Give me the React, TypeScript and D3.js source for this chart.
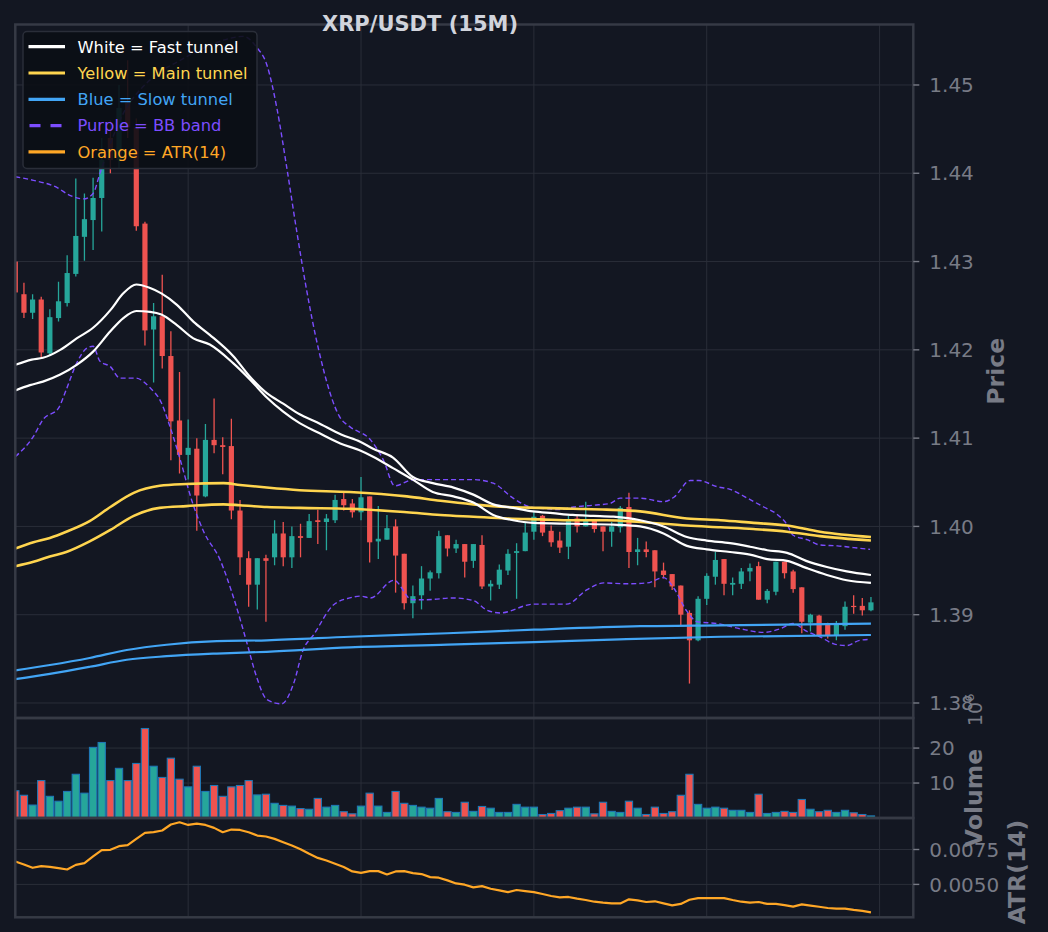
import React from 'react';
import * as d3 from 'd3';

// 15M candles (oldest first)
const opens = [
  1.4300, 1.4263, 1.4242, 1.4257, 1.4196, 1.4236, 1.4253, 1.4286, 1.4328, 1.4347,
  1.4372, 1.4440, 1.4415, 1.4480, 1.4452, 1.4343, 1.4223, 1.4238, 1.4193, 1.4120,
  1.4081, 1.4088, 1.4034, 1.4098, 1.4092, 1.4091, 1.4018, 1.3964, 1.3934, 1.3964,
  1.3965, 1.3992, 1.3965, 1.3989, 1.3987, 1.4007, 1.4005, 1.4007, 1.4031, 1.4026,
  1.4016, 1.4034, 1.3983, 1.3985, 1.4000, 1.3969, 1.3913, 1.3922, 1.3941, 1.3947,
  1.3990, 1.3975, 1.3980, 1.3961, 1.3979, 1.3932, 1.3934, 1.3950, 1.3970, 1.3972,
  1.3994, 1.4012, 1.3995, 1.3984, 1.3977, 1.4009, 1.4000, 1.4008, 1.4000, 1.3994,
  1.3999, 1.4022, 1.3971, 1.3974, 1.3973, 1.3950, 1.3946, 1.3933, 1.3902, 1.3871,
  1.3918, 1.3943, 1.3963, 1.3934, 1.3935, 1.3949, 1.3955, 1.3917, 1.3926, 1.3960,
  1.3949, 1.3931, 1.3891, 1.3899, 1.3890, 1.3876, 1.3887, 1.3910, 1.3910, 1.3905,
];
const highs = [
  1.4334, 1.4276, 1.4263, 1.4260, 1.4246, 1.4277, 1.4307, 1.4394, 1.4377, 1.4395,
  1.4440, 1.4460, 1.4500, 1.4528, 1.4462, 1.4345, 1.4253, 1.4285, 1.4221, 1.4175,
  1.4121, 1.4100, 1.4116, 1.4145, 1.4101, 1.4122, 1.4030, 1.3972, 1.3964, 1.3968,
  1.4007, 1.4005, 1.4000, 1.4003, 1.4014, 1.4019, 1.4014, 1.4036, 1.4039, 1.4031,
  1.4056, 1.4034, 1.4023, 1.4013, 1.4008, 1.3969, 1.3933, 1.3955, 1.3950, 1.3995,
  1.3990, 1.3985, 1.3980, 1.3980, 1.3990, 1.3939, 1.3957, 1.3974, 1.3981, 1.4005,
  1.4017, 1.4013, 1.4001, 1.3994, 1.4012, 1.4013, 1.4028, 1.4008, 1.4000, 1.4005,
  1.4023, 1.4038, 1.3987, 1.3983, 1.3973, 1.3959, 1.3946, 1.3933, 1.3905, 1.3921,
  1.3947, 1.3971, 1.3963, 1.3942, 1.3953, 1.3958, 1.3960, 1.3929, 1.3960, 1.3960,
  1.3951, 1.3931, 1.3901, 1.3900, 1.3891, 1.3893, 1.3915, 1.3922, 1.3919, 1.3920,
];
const lows = [
  1.4258, 1.4236, 1.4235, 1.4190, 1.4194, 1.4232, 1.4249, 1.4283, 1.4301, 1.4313,
  1.4334, 1.4400, 1.4405, 1.4440, 1.4335, 1.4205, 1.4163, 1.4179, 1.4075, 1.4060,
  1.4053, 1.3995, 1.4033, 1.4083, 1.4059, 1.4008, 1.3945, 1.3909, 1.3906, 1.3892,
  1.3956, 1.3955, 1.3953, 1.3965, 1.3987, 1.3980, 1.3973, 1.4004, 1.4018, 1.4010,
  1.4007, 1.3959, 1.3963, 1.3985, 1.3925, 1.3906, 1.3896, 1.3906, 1.3927, 1.3941,
  1.3966, 1.3970, 1.3942, 1.3953, 1.3929, 1.3916, 1.3929, 1.3945, 1.3918, 1.3972,
  1.3985, 1.3989, 1.3977, 1.3970, 1.3963, 1.3993, 1.4000, 1.3993, 1.3972, 1.3977,
  1.3993, 1.3953, 1.3956, 1.3965, 1.3931, 1.3941, 1.3928, 1.3888, 1.3822, 1.3870,
  1.3911, 1.3934, 1.3922, 1.3922, 1.3929, 1.3938, 1.3917, 1.3913, 1.3922, 1.3941,
  1.3925, 1.3879, 1.3881, 1.3875, 1.3873, 1.3871, 1.3883, 1.3901, 1.3899, 1.3904,
];
const closes = [
  1.4265, 1.4242, 1.4257, 1.4197, 1.4237, 1.4255, 1.4287, 1.4329, 1.4348, 1.4372,
  1.4415, 1.4415, 1.4474, 1.4452, 1.4340, 1.4222, 1.4238, 1.4193, 1.4119, 1.4081,
  1.4089, 1.4035, 1.4098, 1.4092, 1.4090, 1.4018, 1.3965, 1.3934, 1.3964, 1.3961,
  1.3992, 1.3965, 1.3989, 1.3987, 1.4006, 1.4005, 1.4009, 1.4030, 1.4024, 1.4016,
  1.4033, 1.3982, 1.3986, 1.3998, 1.3967, 1.3913, 1.3921, 1.3941, 1.3948, 1.3989,
  1.3975, 1.3980, 1.3960, 1.3980, 1.3932, 1.3935, 1.3951, 1.3969, 1.3972, 1.3993,
  1.4011, 1.3993, 1.3982, 1.3976, 1.4007, 1.4000, 1.4007, 1.3997, 1.3994, 1.4000,
  1.4021, 1.3971, 1.3974, 1.3971, 1.3949, 1.3945, 1.3932, 1.3900, 1.3871, 1.3918,
  1.3944, 1.3962, 1.3935, 1.3936, 1.3949, 1.3953, 1.3917, 1.3927, 1.3960, 1.3947,
  1.3929, 1.3892, 1.3900, 1.3876, 1.3876, 1.3889, 1.3909, 1.3909, 1.3905, 1.3914,
];

// volume in millions
const volumes = [
  7.8, 6.5, 3.7, 10.7, 6.2, 4.8, 7.6, 12.5, 7.1, 20.2,
  21.6, 10.7, 14.2, 10.7, 15.6, 25.6, 14.8, 11.6, 17.1, 11.1,
  8.9, 14.8, 7.6, 9.3, 6.2, 8.9, 9.3, 10.7, 6.6, 6.8,
  4.2, 3.6, 3.4, 2.7, 2.5, 5.6, 3.1, 3.6, 1.8, 1.2,
  3.4, 7.1, 3.4, 1.6, 7.6, 4.2, 3.6, 3.1, 2.8, 5.6,
  1.8, 1.6, 4.5, 1.9, 3.3, 2.8, 1.6, 1.6, 3.9, 3.1,
  3.1, 1.0, 1.3, 2.1, 2.8, 3.1, 3.1, 1.2, 4.5, 1.9,
  1.6, 4.8, 2.8, 1.0, 3.1, 1.3, 1.8, 6.5, 12.5, 3.9,
  2.8, 3.1, 2.8, 2.2, 2.2, 1.6, 6.8, 1.3, 1.6, 1.9,
  1.6, 5.3, 2.5, 1.8, 2.2, 1.6, 2.2, 1.5, 1.0, 0.6,
];

const atr14 = [
  0.00664, 0.00643, 0.00619, 0.00631, 0.00626, 0.00617, 0.00607, 0.00640, 0.00652, 0.00700,
  0.00745, 0.00748, 0.00774, 0.00781, 0.00826, 0.00869, 0.00874, 0.00886, 0.00929, 0.00945,
  0.00926, 0.00936, 0.00926, 0.00905, 0.00874, 0.00893, 0.00890, 0.00874, 0.00850, 0.00843,
  0.00826, 0.00802, 0.00779, 0.00752, 0.00719, 0.00690, 0.00671, 0.00648, 0.00624, 0.00593,
  0.00583, 0.00595, 0.00595, 0.00571, 0.00593, 0.00595, 0.00581, 0.00574, 0.00552, 0.00548,
  0.00529, 0.00507, 0.00498, 0.00479, 0.00488, 0.00469, 0.00457, 0.00445, 0.00460, 0.00452,
  0.00445, 0.00431, 0.00417, 0.00407, 0.00410, 0.00398, 0.00388, 0.00376, 0.00369, 0.00364,
  0.00364, 0.00393, 0.00386, 0.00374, 0.00379, 0.00364, 0.00350, 0.00360, 0.00390, 0.00402,
  0.00402, 0.00402, 0.00402, 0.00388, 0.00376, 0.00369, 0.00374, 0.00360, 0.00360, 0.00352,
  0.00341, 0.00357, 0.00348, 0.00340, 0.00331, 0.00326, 0.00326, 0.00317, 0.00310, 0.00300,
];

// indicator lines as [bar index, price]
const fastUpper = [
  [0, 1.4183], [1.9, 1.4189], [3.2, 1.4191], [5.2, 1.4200], [7.1, 1.4213], [9.0, 1.4225],
  [11.0, 1.4245], [12.5, 1.4264], [14.0, 1.4274], [15.6, 1.4270], [16.9, 1.4264], [18.7, 1.4251],
  [20.6, 1.4232], [22.5, 1.4217], [25.2, 1.4193], [27.2, 1.4169], [29.1, 1.4151], [31.0, 1.4139],
  [32.9, 1.4127], [34.9, 1.4118], [37.7, 1.4104], [39.9, 1.4096], [41.4, 1.4088], [43.7, 1.4078],
  [46.0, 1.4056], [48.3, 1.4049], [50.7, 1.4044], [53.0, 1.4036], [55.3, 1.4025], [57.6, 1.4021],
  [59.9, 1.4017], [62.2, 1.4015], [64.5, 1.4013], [66.9, 1.4012], [69.2, 1.4011], [72.3, 1.4007],
  [75.0, 1.4000], [77.7, 1.3988], [80.0, 1.3984], [82.7, 1.3981], [85.0, 1.3977], [87.0, 1.3973],
  [89.3, 1.3970], [91.5, 1.3961], [93.9, 1.3954], [96.2, 1.3949], [99.0, 1.3945],
];
const fastLower = [
  [0, 1.4154], [1.7, 1.4160], [3.2, 1.4164], [5.2, 1.4172], [7.1, 1.4183], [9.0, 1.4198],
  [11.0, 1.4221], [12.5, 1.4236], [14.0, 1.4244], [15.6, 1.4243], [16.9, 1.4240], [18.7, 1.4228],
  [20.6, 1.4213], [22.5, 1.4206], [25.2, 1.4185], [27.2, 1.4166], [29.1, 1.4146], [31.0, 1.4130],
  [32.9, 1.4117], [34.9, 1.4107], [37.6, 1.4094], [39.9, 1.4086], [41.4, 1.4079], [43.7, 1.4066],
  [46.0, 1.4053], [48.3, 1.4039], [50.7, 1.4034], [53.0, 1.4027], [55.3, 1.4013], [57.6, 1.4007],
  [59.9, 1.4004], [64.5, 1.4003], [69.2, 1.4002], [72.3, 1.4000], [75.0, 1.3992], [77.7, 1.3978],
  [80.0, 1.3974], [82.7, 1.3971], [85.0, 1.3968], [87.0, 1.3963], [89.3, 1.3961], [91.5, 1.3953],
  [93.9, 1.3945], [96.2, 1.3939], [99.0, 1.3936],
];
const mainUpper = [
  [0, 1.3975], [2.1, 1.3982], [4.0, 1.3987], [5.9, 1.3994], [8.6, 1.4006], [11.0, 1.4022],
  [13.7, 1.4038], [16.7, 1.4046], [19.8, 1.4048], [24.1, 1.4049], [26.0, 1.4047], [29.1, 1.4044],
  [32.9, 1.4041], [38.7, 1.4039], [45.3, 1.4034], [49.2, 1.4029], [53.0, 1.4025], [56.9, 1.4022],
  [60.7, 1.4021], [64.5, 1.4020], [68.4, 1.4019], [72.3, 1.4017], [77.7, 1.4009], [81.6, 1.4007],
  [85.4, 1.4004], [89.3, 1.4001], [93.1, 1.3994], [99.0, 1.3988],
];
const mainLower = [
  [0, 1.3955], [2.1, 1.3960], [4.0, 1.3966], [5.9, 1.3971], [8.6, 1.3983], [11.0, 1.3996],
  [13.7, 1.4012], [16.7, 1.4021], [19.8, 1.4023], [24.1, 1.4025], [26.0, 1.4024], [29.1, 1.4022],
  [32.9, 1.4021], [38.7, 1.4020], [45.3, 1.4016], [49.2, 1.4013], [53.0, 1.4011], [56.9, 1.4009],
  [60.7, 1.4008], [64.5, 1.4007], [68.4, 1.4007], [72.3, 1.4005], [77.7, 1.4001], [81.6, 1.3999],
  [85.4, 1.3997], [89.3, 1.3994], [93.1, 1.3989], [99.0, 1.3984],
];
const slowUpper = [
  [0, 1.3837], [4.0, 1.3843], [8.6, 1.3851], [12.9, 1.3860], [17.5, 1.3866], [23.3, 1.3870],
  [29.1, 1.3871], [38.7, 1.3875], [50.0, 1.3879], [60.0, 1.3883], [72.3, 1.3887], [81.6, 1.3888],
  [99.0, 1.3890],
];
const slowLower = [
  [0, 1.3827], [4.0, 1.3833], [8.6, 1.3841], [12.9, 1.3849], [17.5, 1.3853], [23.3, 1.3856],
  [29.1, 1.3858], [38.7, 1.3863], [50.0, 1.3866], [60.0, 1.3869], [69.9, 1.3872], [81.6, 1.3875],
  [99.0, 1.3877],
];
const bbUpper = [
  [0, 1.4396], [2.1, 1.4392], [4.8, 1.4384], [6.3, 1.4375], [7.9, 1.4371], [9.0, 1.4377],
  [9.8, 1.4400], [12.1, 1.4460], [15.6, 1.4506], [19.1, 1.4528], [22.5, 1.4545], [26.4, 1.4555],
  [27.9, 1.4543], [29.1, 1.4523], [30.3, 1.4472], [31.4, 1.4407], [32.6, 1.4332], [33.7, 1.4268],
  [35.1, 1.4200], [37.6, 1.4123], [38.7, 1.4113], [41.1, 1.4098], [42.6, 1.4075], [43.9, 1.4046],
  [46.1, 1.4053], [49.2, 1.4053], [53.0, 1.4053], [55.3, 1.4049], [57.6, 1.4032], [59.6, 1.4022],
  [61.5, 1.4020], [63.0, 1.4019], [64.6, 1.4022], [66.9, 1.4024], [68.8, 1.4026], [70.0, 1.4032],
  [72.3, 1.4032], [75.0, 1.4028], [76.2, 1.4033], [78.1, 1.4052], [79.1, 1.4052], [81.2, 1.4045],
  [82.7, 1.4042], [84.7, 1.4032], [86.6, 1.4022], [88.1, 1.4014], [89.3, 1.4002], [90.0, 1.3990],
  [91.6, 1.3985], [93.1, 1.3979], [95.1, 1.3978], [97.0, 1.3976], [98.9, 1.3974],
];
const bbLower = [
  [0, 1.4079], [2.1, 1.4102], [3.2, 1.4121], [5.0, 1.4134], [5.9, 1.4155], [7.1, 1.4185],
  [8.3, 1.4202], [9.0, 1.4204], [9.8, 1.4187], [11.0, 1.4181], [12.1, 1.4168], [13.9, 1.4168],
  [15.6, 1.4157], [16.9, 1.4140], [17.9, 1.4113], [19.1, 1.4075], [20.4, 1.4030], [21.8, 1.3994],
  [23.7, 1.3962], [25.2, 1.3921], [26.8, 1.3868], [27.9, 1.3830], [29.1, 1.3804], [30.8, 1.3799],
  [32.2, 1.3822], [33.3, 1.3860], [34.5, 1.3877], [36.8, 1.3911], [38.7, 1.3919], [39.9, 1.3921],
  [41.1, 1.3919], [43.8, 1.3939], [45.9, 1.3917], [47.6, 1.3917], [50.7, 1.3919], [53.0, 1.3916],
  [54.6, 1.3905], [56.1, 1.3902], [60.0, 1.3912], [63.8, 1.3912], [66.1, 1.3928], [68.1, 1.3936],
  [70.8, 1.3935], [73.1, 1.3936], [75.0, 1.3942], [76.2, 1.3930], [77.7, 1.3904], [78.9, 1.3892],
  [81.2, 1.3890], [83.9, 1.3884], [86.6, 1.3880], [88.5, 1.3884], [90.0, 1.3890], [91.6, 1.3881],
  [93.1, 1.3875], [94.7, 1.3867], [96.2, 1.3865], [97.7, 1.3871], [98.9, 1.3872],
];

const priceTicks = [1.38, 1.39, 1.40, 1.41, 1.42, 1.43, 1.44, 1.45];
const volumeTicks = [10, 20];
const atrTicks = [0.005, 0.0075];
const xGridTicks = [0, 20, 40, 60, 80, 100];

const legendItems = [
  { label: 'White = Fast tunnel', color: '#ffffff', dashed: false },
  { label: 'Yellow = Main tunnel', color: '#ffd54f', dashed: false },
  { label: 'Blue = Slow tunnel', color: '#42a5f5', dashed: false },
  { label: 'Purple = BB band', color: '#7c4dff', dashed: true },
  { label: 'Orange = ATR(14)', color: '#ffa726', dashed: false },
];

const W = 1048;
const H = 932;
const BG = '#131722';
const GRID = '#2a2e39';
const SPINE = '#363a45';
const MUTED = '#787b86';
const UP = '#26a69a';
const DOWN = '#ef5350';
const FONT = 'DejaVu Sans';

const LEFT = 15.3;
const RIGHT = 913.3;
const mainPanel = { top: 24.5, bottom: 718 };
const volPanel = { top: 718, bottom: 818 };
const atrPanel = { top: 818, bottom: 917.3 };

const App: React.FC = () => {
  const x = d3.scaleLinear().domain([0, 103.9]).range([LEFT, RIGHT]);
  const yPrice = d3.scaleLinear().domain([1.3783, 1.45685]).range([mainPanel.bottom, mainPanel.top]);
  const yVol = d3.scaleLinear().domain([0, 28.6]).range([volPanel.bottom, volPanel.top]);
  const yAtr = d3.scaleLinear().domain([0.002643, 0.009757]).range([atrPanel.bottom, atrPanel.top]);

  const step = x(1) - x(0);
  const bodyW = step * 0.6;
  const volW = step * 0.84;

  const priceLine = d3.line<number[]>()
    .x(d => x(d[0]))
    .y(d => yPrice(d[1]))
    .curve(d3.curveMonotoneX);
  const atrLine = d3.line<number>()
    .x((_, i) => x(i))
    .y(d => yAtr(d));

  const panels = [
    { id: 'main', ...mainPanel },
    { id: 'vol', ...volPanel },
    { id: 'atr', ...atrPanel },
  ];

  const rightTicks = (ticks: number[], scale: d3.ScaleLinear<number, number>, fmt: (n: number) => string) =>
    ticks.map(t => (
      <g key={t}>
        <line x1={RIGHT} x2={RIGHT + 6} y1={scale(t)} y2={scale(t)} stroke={MUTED} strokeWidth={1.4} />
        <text x={RIGHT + 16} y={scale(t)} dy="0.36em" fill={MUTED} fontSize={20}>{fmt(t)}</text>
      </g>
    ));

  const hGrid = (ticks: number[], scale: d3.ScaleLinear<number, number>) =>
    ticks.map(t => (
      <line key={t} x1={LEFT} x2={RIGHT} y1={scale(t)} y2={scale(t)} stroke={GRID} strokeWidth={1} />
    ));

  return (
    <svg width={W} height={H} style={{ position: 'absolute', left: 0, top: 0, display: 'block' }} fontFamily={FONT}>
      <rect x={0} y={0} width={W} height={H} fill={BG} />
      <defs>
        {panels.map(p => (
          <clipPath key={p.id} id={`clip-${p.id}`}>
            <rect x={LEFT} y={p.top} width={RIGHT - LEFT} height={p.bottom - p.top} />
          </clipPath>
        ))}
      </defs>

      {/* grids */}
      {panels.map(p => (
        <g key={p.id}>
          {xGridTicks.map(t => (
            <line key={t} x1={x(t)} x2={x(t)} y1={p.top} y2={p.bottom} stroke={GRID} strokeWidth={1} />
          ))}
        </g>
      ))}
      {hGrid(priceTicks, yPrice)}
      {hGrid(volumeTicks, yVol)}
      {hGrid(atrTicks, yAtr)}

      {/* price panel */}
      <g clipPath="url(#clip-main)">
        {closes.map((c, i) => {
          const o = opens[i];
          const col = c >= o ? UP : DOWN;
          const cx = x(i);
          const top = yPrice(Math.max(o, c));
          const bot = yPrice(Math.min(o, c));
          return (
            <g key={i}>
              <line x1={cx} x2={cx} y1={yPrice(highs[i])} y2={yPrice(lows[i])} stroke={col} strokeWidth={1.3} />
              <rect x={cx - bodyW / 2} y={top} width={bodyW} height={Math.max(bot - top, 1.2)} fill={col} />
            </g>
          );
        })}
        <path d={priceLine(bbUpper) ?? ''} fill="none" stroke="#7c4dff" strokeWidth={1.4} strokeDasharray="5,3" />
        <path d={priceLine(bbLower) ?? ''} fill="none" stroke="#7c4dff" strokeWidth={1.4} strokeDasharray="5,3" />
        <path d={priceLine(slowUpper) ?? ''} fill="none" stroke="#42a5f5" strokeWidth={2.2} />
        <path d={priceLine(slowLower) ?? ''} fill="none" stroke="#42a5f5" strokeWidth={2.2} />
        <path d={priceLine(mainUpper) ?? ''} fill="none" stroke="#ffd54f" strokeWidth={2.6} />
        <path d={priceLine(mainLower) ?? ''} fill="none" stroke="#ffd54f" strokeWidth={2.6} />
        <path d={priceLine(fastUpper) ?? ''} fill="none" stroke="#ffffff" strokeWidth={2.2} />
        <path d={priceLine(fastLower) ?? ''} fill="none" stroke="#ffffff" strokeWidth={2.2} />
      </g>

      {/* volume panel */}
      <g clipPath="url(#clip-vol)">
        {volumes.map((v, i) => (
          <rect
            key={i}
            x={x(i) - volW / 2}
            y={yVol(v)}
            width={volW}
            height={yVol(0) - yVol(v)}
            fill={closes[i] >= opens[i] ? UP : DOWN}
            stroke="#1f77b4"
            strokeWidth={1.1}
          />
        ))}
      </g>

      {/* ATR panel */}
      <g clipPath="url(#clip-atr)">
        <path d={atrLine(atr14) ?? ''} fill="none" stroke="#ffa726" strokeWidth={2.2} strokeLinejoin="round" />
      </g>

      {/* spines */}
      {panels.map(p => (
        <rect key={p.id} x={LEFT} y={p.top} width={RIGHT - LEFT} height={p.bottom - p.top}
          fill="none" stroke={SPINE} strokeWidth={2.5} />
      ))}

      {/* right axes */}
      {rightTicks(priceTicks, yPrice, d3.format('.2f'))}
      {rightTicks(volumeTicks, yVol, d3.format('d'))}
      {rightTicks(atrTicks, yAtr, d3.format('.4f'))}

      <text transform="translate(982,726) rotate(-90)" fill={MUTED} fontSize={19}>
        10<tspan fontSize={13} dy={-8}>6</tspan>
      </text>

      <text transform={`translate(1004,${(mainPanel.top + mainPanel.bottom) / 2}) rotate(-90)`}
        textAnchor="middle" fill={MUTED} fontSize={23.5} fontWeight="bold">Price</text>
      <text transform="translate(982,798) rotate(-90)"
        textAnchor="middle" fill={MUTED} fontSize={23.5} fontWeight="bold">Volume</text>
      <text transform="translate(1025,872) rotate(-90)"
        textAnchor="middle" fill={MUTED} fontSize={23.5} fontWeight="bold">ATR(14)</text>

      {/* legend */}
      <g>
        <rect x={23} y={31.5} width={234} height={137} rx={4} fill="#0b0e15" fillOpacity={0.9}
          stroke={GRID} strokeWidth={1.5} />
        {legendItems.map((it, k) => {
          const ly = 46.7 + k * 26.3;
          return (
            <g key={it.label}>
              <line x1={it.dashed ? 29.5 : 28.5} x2={it.dashed ? 62 : 65} y1={ly} y2={ly} stroke={it.color}
                strokeWidth={3.2} strokeDasharray={it.dashed ? '11,10' : undefined} />
              <text x={77.5} y={ly} dy="0.36em" fill={it.color} fontSize={16.3}>{it.label}</text>
            </g>
          );
        })}
      </g>

      <text x={420} y={31} textAnchor="middle" fill="#d1d4dc" fontSize={21} fontWeight="bold">XRP/USDT (15M)</text>
    </svg>
  );
};

export default App;
